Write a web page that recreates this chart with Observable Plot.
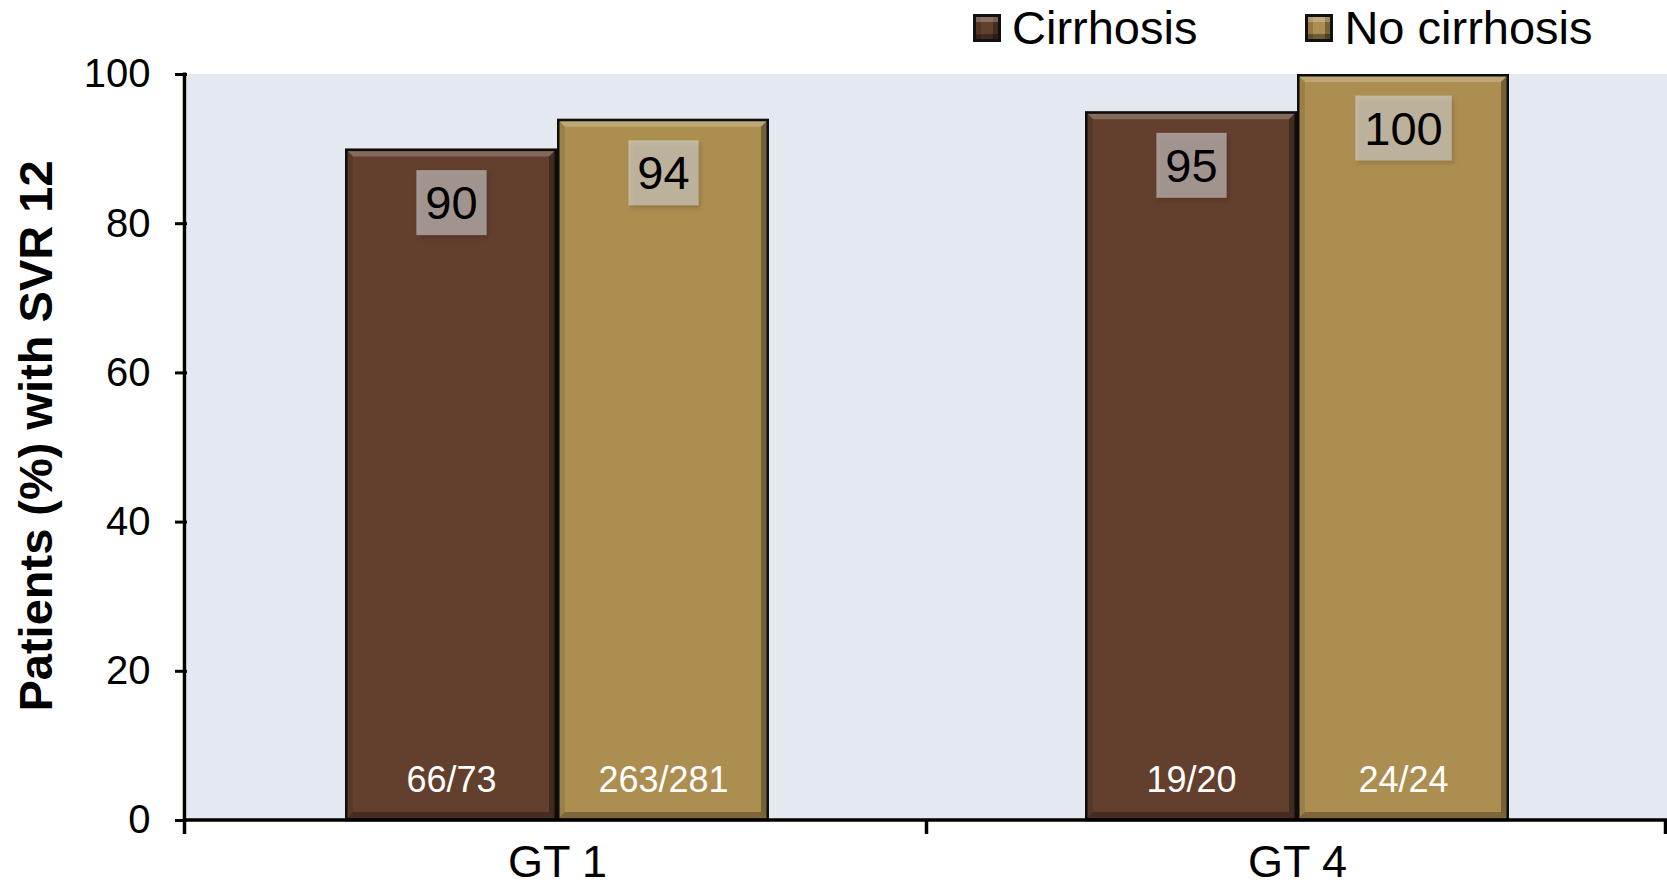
<!DOCTYPE html>
<html><head><meta charset="utf-8">
<script src="https://cdn.jsdelivr.net/npm/d3@7"></script>
<script src="https://cdn.jsdelivr.net/npm/@observablehq/plot@0.6"></script>
<style>
body{margin:0;background:#fff;font-family:"Liberation Sans",Arial,sans-serif;}
#legend{height:56px;display:flex;align-items:center;padding-left:973px;font-size:47px;line-height:56px;color:#000;box-sizing:border-box;white-space:nowrap;}
.item{display:flex;align-items:center;margin-right:108px;white-space:nowrap;flex:none;}
.sw{width:22px;height:22px;border:3px solid #111;margin-right:11px;box-shadow:inset 0 5px 0 rgba(255,255,255,0.25),inset 0 -5px 0 rgba(0,0,0,0.35),inset 5px 0 0 rgba(0,0,0,0.15),inset -5px 0 0 rgba(0,0,0,0.3);}
#chart svg{display:block;}
</style></head><body>
<div id="legend"></div>
<div id="chart"></div>
<script>
const groups = ["GT 1", "GT 4"];
const series = ["Cirrhosis", "No cirrhosis"];
const cirrhosisPct = [90, 95];
const noCirrhosisPct = [94, 100];
const cirrhosisN = ["66/73", "19/20"];
const noCirrhosisN = ["263/281", "24/24"];
const yTicks = [0, 20, 40, 60, 80, 100];
const seriesColors = ["#633f2e", "#ad8e51"];
const yLabel = "Patients (%) with SVR 12";

const data = [];
groups.forEach((g, i) => {
  data.push({group: g, series: series[0], value: cirrhosisPct[i], n: cirrhosisN[i]});
  data.push({group: g, series: series[1], value: noCirrhosisPct[i], n: noCirrhosisN[i]});
});

// legend
const legend = d3.select("#legend");
series.forEach((s, i) => {
  const it = legend.append("div").attr("class", "item");
  it.append("div").attr("class", "sw").style("background", seriesColors[i]);
  it.append("span").text(s);
});

const W = 1667, H = 829;
const FONT = '"Liberation Sans", Arial, sans-serif';
const BG = "#e4e8f0";
const plot = Plot.plot({
  width: W, height: H,
  marginLeft: 186, marginRight: 0, marginTop: 18, marginBottom: 65,
  style: {fontFamily: FONT, fontSize: "40px", color: "#000", background: "transparent", overflow: "visible"},
  facet: {data, x: "group"},
  fx: {domain: groups, padding: 0, label: null, tickSize: 0, tickPadding: 25, axis: "bottom"},
  x: {domain: series, paddingInner: 0, paddingOuter: 0.74, axis: null},
  y: {domain: [0, 100], ticks: yTicks, tickSize: 12, tickPadding: 25, label: null},
  color: {domain: series, range: seriesColors},
  marks: [
    Plot.frame({fill: BG, stroke: BG, strokeWidth: 1}),
    Plot.barY(data, {x: "series", y: "value", fill: "series"}),
    Plot.text(data, {x: "series", y: "value", text: d => String(d.value), dy: 55, fontSize: 47, fill: "#000"}),
    Plot.text(data, {x: "series", text: "n", frameAnchor: "bottom", dy: -29, fontSize: 36, fill: "#fff"})
  ]
});
document.getElementById("chart").append(plot);
const svgNode = plot.tagName.toLowerCase() === "svg" ? plot : plot.querySelector("svg");
const svg = d3.select(svgNode);
const NS = "http://www.w3.org/2000/svg";

// axis text styling
svg.selectAll('g[aria-label^="y-axis"] text').style("font-size", "40px").style("font-family", FONT);
svg.selectAll('g[aria-label^="fx-axis"] text').style("font-size", "45px").style("font-family", FONT);
svg.selectAll('g[aria-label^="y-axis"] line, g[aria-label^="y-axis"] path').style("stroke-width", "3").style("stroke", "#000");
svg.selectAll('g[aria-label^="fx-axis"] line, g[aria-label^="fx-axis"] path').style("display", "none");

// bevelled bars: decorate each bar rect drawn by Plot
function poly(parent, pts, fill, op) {
  const p = document.createElementNS(NS, "polygon");
  p.setAttribute("points", pts.map(q => q.join(",")).join(" "));
  p.setAttribute("fill", fill);
  p.setAttribute("fill-opacity", op);
  p.setAttribute("stroke", "none");
  parent.appendChild(p);
}
svg.selectAll('g[aria-label="bar"] rect').each(function() {
  const x = +this.getAttribute("x"), y = +this.getAttribute("y");
  const w = +this.getAttribute("width"), h = +this.getAttribute("height");
  const g = document.createElementNS(NS, "g");
  const t = this.getAttribute("transform");
  if (t) g.setAttribute("transform", t);
  const b = 8;
  poly(g, [[x, y], [x + w, y], [x + w - b, y + b], [x + b, y + b]], "#fff", 0.22);
  poly(g, [[x, y + h], [x + w, y + h], [x + w - b, y + h - b], [x + b, y + h - b]], "#000", 0.28);
  poly(g, [[x, y], [x + b, y + b], [x + b, y + h - b], [x, y + h]], "#000", 0.1);
  poly(g, [[x + w, y], [x + w - b, y + b], [x + w - b, y + h - b], [x + w, y + h]], "#000", 0.32);
  const o = document.createElementNS(NS, "rect");
  o.setAttribute("x", x + 1.25); o.setAttribute("y", y + 1.25);
  o.setAttribute("width", w - 2.5); o.setAttribute("height", h - 1.25);
  o.setAttribute("fill", "none"); o.setAttribute("stroke", "#0d0d0d"); o.setAttribute("stroke-width", 2.5);
  g.appendChild(o);
  this.parentNode.insertBefore(g, this.nextSibling);
});

// label boxes behind the value labels
svg.selectAll('g[aria-label="text"] text').each(function() {
  if (this.textContent.includes("/")) return;
  const b = this.getBBox();
  const r = document.createElementNS(NS, "rect");
  const padX = 9, padY = 6;
  r.setAttribute("x", b.x - padX);
  r.setAttribute("y", b.y - padY);
  r.setAttribute("width", b.width + 2 * padX);
  r.setAttribute("height", b.height + 2 * padY);
  r.setAttribute("fill", "#dadbdd");
  r.setAttribute("fill-opacity", "0.57");
  r.setAttribute("stroke", "none");
  r.style.filter = "drop-shadow(2px 3px 2px rgba(0,0,0,0.25))";
  const t = this.getAttribute("transform");
  if (t) r.setAttribute("transform", t);
  this.parentNode.insertBefore(r, this);
});

// axis lines using the plot's scales
const ys = plot.scale("y"), fxs = plot.scale("fx");
const yBottom = Math.max(...ys.range), yTop = Math.min(...ys.range);
const band = d3.scaleBand().domain(fxs.domain).range(fxs.range)
  .paddingInner(fxs.paddingInner ?? 0).paddingOuter(fxs.paddingOuter ?? 0);
const bounds = fxs.domain.map(d => band(d));
bounds.push(band(fxs.domain[fxs.domain.length - 1]) + band.bandwidth());
const ax = svg.append("g").attr("stroke", "#000").attr("stroke-width", 3.5).attr("fill", "none");
const left = bounds[0] - 1.5;
ax.append("line").attr("x1", left).attr("x2", left).attr("y1", yTop - 1.5).attr("y2", yBottom);
ax.append("line").attr("x1", left).attr("x2", W).attr("y1", yBottom).attr("y2", yBottom);
bounds.forEach((b, i) => {
  const x = i === 0 ? left : Math.min(b, W - 1.5);
  ax.append("line").attr("x1", x).attr("x2", x).attr("y1", yBottom).attr("y2", yBottom + 14);
});

// y title
svg.append("text")
  .attr("transform", `translate(35,${(yTop + yBottom) / 2 - 11}) rotate(-90)`)
  .attr("text-anchor", "middle").attr("dominant-baseline", "central")
  .style("font-family", FONT).style("font-size", "47px").style("font-weight", "bold").attr("fill", "#000")
  .text(yLabel);
</script>
</body></html>
